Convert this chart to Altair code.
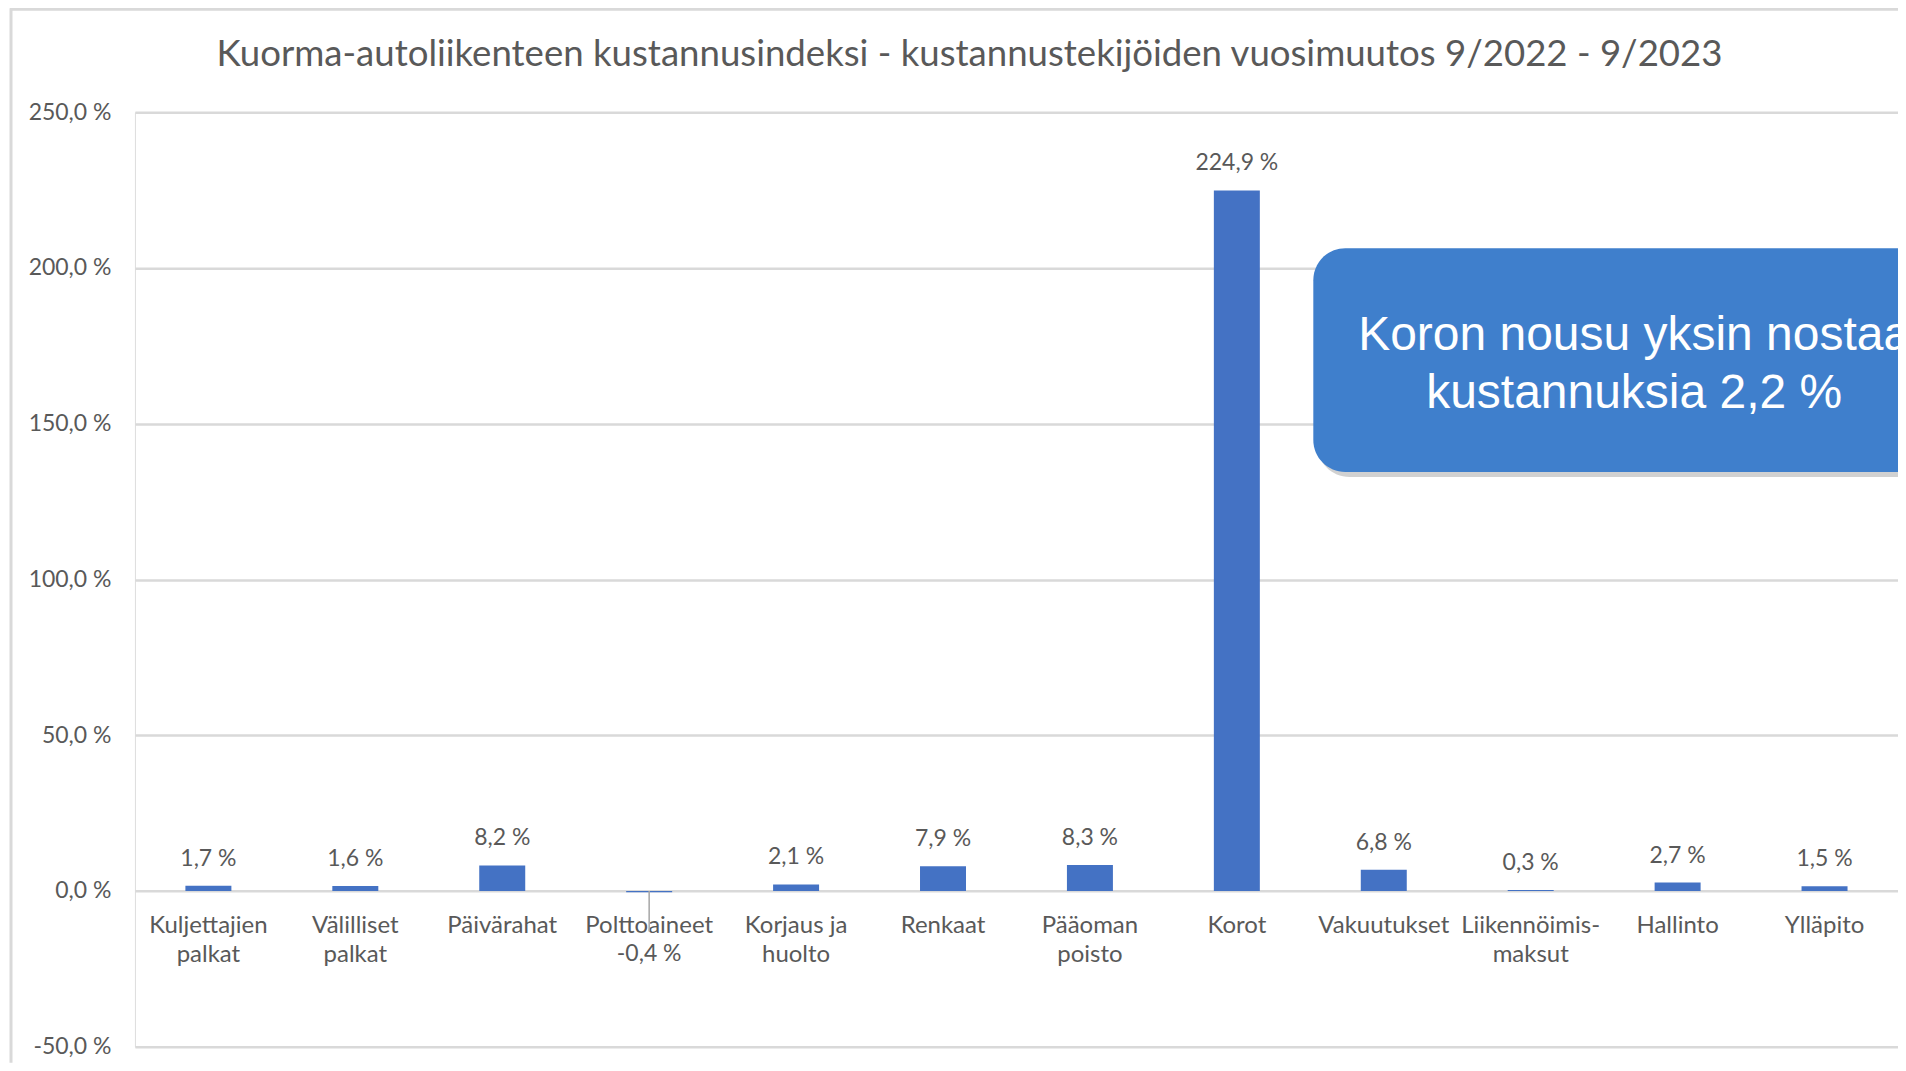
import altair as alt
import pandas as pd

# ---- data ----
categories = [
    "Kuljettajien\npalkat", "Välilliset\npalkat", "Päivärahat", "Polttoaineet",
    "Korjaus ja\nhuolto", "Renkaat", "Pääoman\npoisto", "Korot", "Vakuutukset",
    "Liikennöimis-\nmaksut", "Hallinto", "Ylläpito",
]
values = [1.7, 1.6, 8.2, -0.4, 2.1, 7.9, 8.3, 224.9, 6.8, 0.3, 2.7, 1.5]
y_ticks = [-50, 0, 50, 100, 150, 200, 250]
title_text = "Kuorma-autoliikenteen kustannusindeksi - kustannustekijöiden vuosimuutos 9/2022 - 9/2023"
callout_lines = ["Koron nousu yksin nostaa", "kustannuksia 2,2 %"]

df = pd.DataFrame({"cat": categories, "value": values})

W, H = 1764, 935
GREY = "#595959"
FONT = "Lato"
FS = 23

label_expr_y = "replace(replace(format(datum.value, '.1f'), '.', ','), '\u2212', '-') + ' %'"

x_enc = alt.X(
    "cat:N", sort=categories,
    scale=alt.Scale(paddingInner=0.687, paddingOuter=0.3435),
    axis=alt.Axis(
        title=None, orient="bottom", offset=-H * 50 / 300, domain=False, ticks=False,
        labelAngle=0, labelExpr="split(datum.label, '\\n')", labelLineHeight=29,
        labelPadding=23, labelFont=FONT, labelFontSize=24, labelColor=GREY,
        labelLimit=400,
    ),
)
y_scale = alt.Scale(domain=[-50, 250], nice=False, zero=False)
y_enc = alt.Y(
    "value:Q", scale=y_scale,
    axis=alt.Axis(
        title=None, values=y_ticks, labelExpr=label_expr_y, grid=True, domain=False,
        ticks=False, labelPadding=24, labelFont=FONT, labelFontSize=FS, labelColor=GREY,
        gridColor="#D9D9D9", gridWidth=2.5,
    ),
)

base = alt.Chart(df).transform_calculate(
    lbl="replace(replace(format(datum.value, '.1f'), '.', ','), '\u2212', '-') + ' %'"
)

bars = base.mark_bar(color="#4472C4").encode(x=x_enc, y=y_enc, y2=alt.datum(0))

pos_labels = base.transform_filter("datum.value >= 0").mark_text(
    baseline="middle", dy=-27, font=FONT, fontSize=FS, color=GREY
).encode(x=alt.X("cat:N", sort=categories), y=alt.Y("value:Q", scale=y_scale), text="lbl:N")

neg_labels = base.transform_filter("datum.value < 0").mark_text(
    baseline="middle", dy=62, font=FONT, fontSize=FS, color=GREY
).encode(x=alt.X("cat:N", sort=categories), y=alt.Y("value:Q", scale=y_scale), text="lbl:N")

leader = base.transform_filter("datum.value < 0").mark_rule(
    color="#A6A6A6", strokeWidth=1.5
).encode(x=alt.X("cat:N", sort=categories), y=alt.datum(0), y2=alt.datum(-13))

one = pd.DataFrame({"k": [0]})
deco = alt.Chart(one)

# chart-area frame (left and top edges)
frame_left = deco.mark_rule(color="#D9D9D9", strokeWidth=3).encode(
    x=alt.value(-124), y=alt.value(-104), y2=alt.value(H + 16)
)
frame_top = deco.mark_rule(color="#D9D9D9", strokeWidth=3).encode(
    x=alt.value(-125), x2=alt.value(W + 10), y=alt.value(-103)
)

# title as text placed over the chart area
title = deco.mark_text(
    text=title_text, font=FONT, fontSize=36.6, color=GREY, align="center", baseline="middle"
).encode(x=alt.value(835), y=alt.value(-57))

# callout box
shadow = deco.mark_rect(color="#000000", opacity=0.18, cornerRadius=32).encode(
    x=alt.value(1183), x2=alt.value(1900), y=alt.value(141), y2=alt.value(365)
)
box = deco.mark_rect(color="#3F7FCC", cornerRadius=32).encode(
    x=alt.value(1179), x2=alt.value(1900), y=alt.value(136), y2=alt.value(360)
)
box_text = deco.mark_text(
    text=callout_lines, font="Liberation Sans", fontSize=48, color="white",
    align="center", baseline="middle", lineHeight=58,
).encode(x=alt.value(1500), y=alt.value(224))

chart = alt.layer(
    frame_left, frame_top, title, bars, leader, pos_labels, neg_labels, shadow, box, box_text
).properties(
    width=W, height=H,
    autosize=alt.AutoSizeParams(type="none"),
    padding={"left": 127, "top": 104, "right": 0, "bottom": 16},
).configure_view(stroke=None).configure(background="white")

chart.save("out.html", embed_options={"renderer": "svg", "actions": False})
